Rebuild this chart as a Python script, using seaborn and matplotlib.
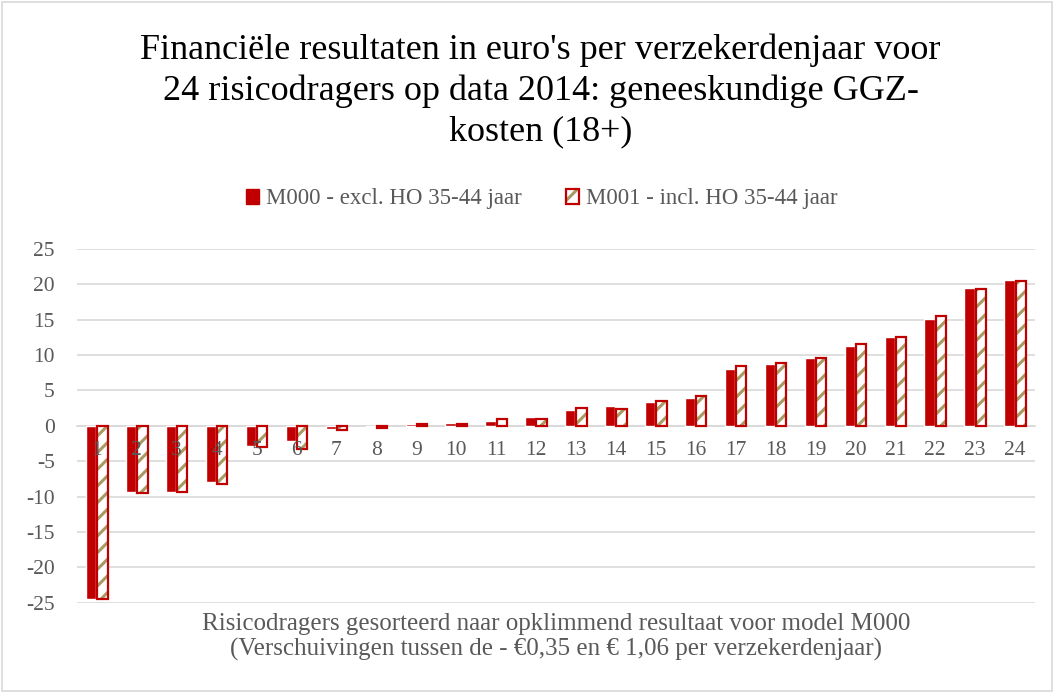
"""Financiële resultaten per verzekerdenjaar, 24 risicodragers (M000 vs M001)."""

import matplotlib.pyplot as plt
import pandas as pd
import seaborn as sns
from matplotlib.patches import Patch, Rectangle

CATEGORIES = [str(i) for i in range(1, 25)]
M000 = [-24.5, -9.4, -9.3, -7.9, -2.9, -2.2, -0.4, -0.1, 0.25, 0.45, 0.75, 1.2,
        2.3, 2.8, 3.4, 3.95, 8.05, 8.8, 9.55, 11.25, 12.5, 15.05, 19.45, 20.6]
M001 = [-24.5, -9.5, -9.4, -8.2, -3.0, -3.3, -0.65, -0.3, 0.25, 0.3, 1.0, 0.95,
        2.5, 2.4, 3.45, 4.2, 8.5, 8.9, 9.55, 11.6, 12.5, 15.5, 19.35, 20.4]
SERIES = ["M000 - excl. HO 35-44 jaar", "M001 - incl. HO 35-44 jaar"]
Y_TICKS = [-25, -20, -15, -10, -5, 0, 5, 10, 15, 20, 25]

RED = "#C00000"
KHAKI = "#A89A62"
GREY_TEXT = "#595959"
GRID = "#D9D9D9"

sns.set_style("white")
plt.rcParams["font.family"] = ["Liberation Serif", "DejaVu Serif"]
plt.rcParams["hatch.linewidth"] = 2.2
plt.rcParams["axes.unicode_minus"] = False

df = pd.DataFrame({
    "cat": CATEGORIES * 2,
    "value": M000 + M001,
    "series": [SERIES[0]] * 24 + [SERIES[1]] * 24,
})

fig = plt.figure(figsize=(10.54, 6.93), dpi=100)
ax = fig.add_axes([0.073, 0.130, 0.909, 0.511])

sns.barplot(data=df, x="cat", y="value", hue="series", order=CATEGORIES,
            hue_order=SERIES, palette=[RED, RED], saturation=1, width=0.56,
            gap=0.08, errorbar=None, legend=False, ax=ax, zorder=3)

# tweede reeks: gearceerd met rode rand
for bar in ax.containers[1]:
    bar.set_facecolor("white")
    bar.set_edgecolor(KHAKI)
    bar.set_hatch("//")
    bar.set_linewidth(0)
    ax.add_patch(Rectangle(bar.get_xy(), bar.get_width(), bar.get_height(),
                           fill=False, edgecolor=RED, linewidth=1.6, zorder=4))

ax.set_ylim(-25, 25)
ax.set_xlim(-0.5, 23.5)
ax.set_yticks(Y_TICKS)
ax.yaxis.grid(True, color=GRID, linewidth=1.2, zorder=0)
ax.set_axisbelow(True)
ax.xaxis.set_zorder(6)  # categorielabels over de balken
for side in ["top", "right", "left"]:
    ax.spines[side].set_visible(False)
ax.spines["bottom"].set_position(("data", 0))
ax.spines["bottom"].set_color(GRID)
ax.spines["bottom"].set_linewidth(1.2)
ax.spines["bottom"].set_zorder(1)
ax.tick_params(axis="x", length=0, pad=11, labelsize=15.5, labelcolor=GREY_TEXT)
ax.tick_params(axis="y", length=0, pad=16, labelsize=15.5, labelcolor=GREY_TEXT)
ax.set_xlabel("")
ax.set_ylabel("")

ax.text(0.5, -0.028,
        "Risicodragers gesorteerd naar opklimmend resultaat voor model M000\n"
        "(Verschuivingen tussen de - €0,35 en € 1,06 per verzekerdenjaar)",
        transform=ax.transAxes, ha="center", va="top", fontsize=18,
        color=GREY_TEXT, linespacing=1.2)

fig.text(0.513, 0.952,
         "Financiële resultaten in euro's per verzekerdenjaar voor\n"
         "24 risicodragers op data 2014: geneeskundige GGZ-\nkosten (18+)",
         ha="center", va="top", fontsize=26, color="black", linespacing=1.3)

handles = [
    Patch(facecolor=RED, edgecolor=RED),
    (Patch(facecolor="white", edgecolor=KHAKI, hatch="//", linewidth=0),
     Patch(fill=False, edgecolor=RED, linewidth=1.6)),
]
fig.legend(handles, SERIES, loc="center", bbox_to_anchor=(0.514, 0.713), ncol=2,
           frameon=False, fontsize=16.5, labelcolor=GREY_TEXT, handlelength=0.6,
           handleheight=0.6, handletextpad=0.3, columnspacing=1.9)

fig.add_artist(Rectangle((0.002, 0.003), 0.996, 0.994, transform=fig.transFigure,
                         fill=False, edgecolor=GRID, linewidth=1.2))

fig.savefig("out.png", dpi=100)
